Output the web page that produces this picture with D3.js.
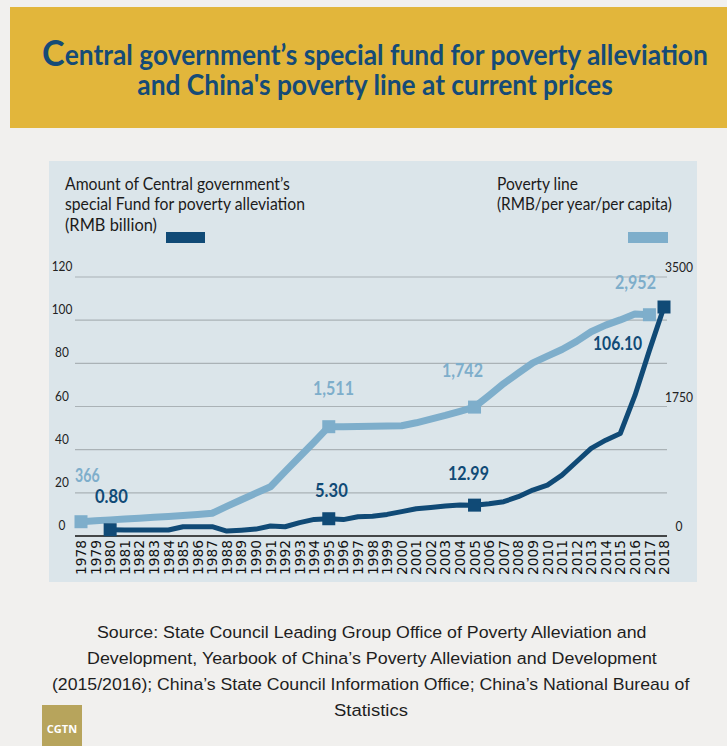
<!DOCTYPE html>
<html><head><meta charset="utf-8">
<script src="https://cdn.jsdelivr.net/npm/d3@7"></script>
<style>
html,body{margin:0;padding:0;background:#f1f0ee;}
svg{display:block;}
</style></head>
<body>
<script>
// ---- data ----
const years = d3.range(1978, 2019);
const fundYears = [1980,1981,1982,1983,1984,1985,1986,1987,1988,1989,1990,1991,1992,1993,1994,1995,1996,1997,1998,1999,2000,2001,2002,2003,2004,2005,2006,2007,2008,2009,2010,2011,2012,2013,2014,2015,2016,2017,2018];
const fundValues = [2.9,2.8,2.8,2.8,2.8,4.3,4.3,4.3,2.3,2.7,3.2,4.6,4.3,6.2,7.7,8.0,7.6,8.9,9.2,10.0,11.3,12.6,13.2,13.9,14.4,14.3,14.9,15.9,18.2,21.3,23.6,28.2,34.4,40.6,44.4,47.5,65,86,106.1];
const lineYears = [1978,1979,1980,1981,1982,1983,1984,1985,1986,1987,1988,1989,1990,1991,1992,1993,1994,1995,1996,1997,1998,1999,2000,2001,2002,2003,2004,2005,2006,2007,2008,2009,2010,2011,2012,2013,2014,2015,2016,2017];
const lineValues = [193,205,218,230,240,252,264,276,290,307,400,490,580,666,870,1070,1270,1477,1478,1480,1483,1487,1490,1530,1580,1630,1685,1742,1900,2060,2200,2340,2430,2520,2630,2760,2850,2920,3000,2990];
const fundMarkers = [1980,1995,2005,2018];
const fundLabels = ["0.80","5.30","12.99","106.10"];
const lineMarkers = [1978,1995,2005,2017];
const lineLabels = ["366","1,511","1,742","2,952"];
const leftTicks = [0,20,40,60,80,100,120];
const rightTicks = [0,1750,3500];
const titleCap = "C";
const titleLines = ["entral government\u2019s special fund for poverty alleviation","and China's poverty line at current prices"];
const leftLegend = ["Amount of Central government\u2019s","special Fund for poverty alleviation","(RMB billion)"];
const rightLegend = ["Poverty line","(RMB/per year/per capita)"];
const sourceLines = ["Source: State Council Leading Group Office of Poverty Alleviation and",
 "Development, Yearbook of China\u2019s Poverty Alleviation and Development",
 "(2015/2016); China\u2019s State Council Information Office; China\u2019s National Bureau of",
 "Statistics"];

// ---- styles ----
const W = 727, H = 746;
const DARK = "#104a76", LIGHT = "#7eaecb", TITLE = "#154b77";
const HUM = "Lato,'Open Sans',sans-serif";

const svg = d3.select("body").append("svg").attr("width", W).attr("height", H);
svg.append("rect").attr("width", W).attr("height", H).attr("fill", "#f1f0ee");

// horizontally scale each text of a selection about its anchor x to a target width
function fit(sel, wf) {
  sel.each(function (d, i) {
    const w0 = this.getComputedTextLength();
    const tw = typeof wf === "function" ? wf(d, i) : wf;
    const s = w0 > 0 ? tw / w0 : 1;
    const x0 = +this.getAttribute("x") || 0;
    this.setAttribute("transform", `translate(${x0},0) scale(${s},1) translate(${-x0},0)`);
  });
  return sel;
}

// header
svg.append("rect").attr("x", 10).attr("y", 7).attr("width", W - 10).attr("height", 121).attr("fill", "#e2b63b");
const TX = 375;
const title = svg.append("text").attr("text-anchor", "middle")
  .attr("font-family", HUM).attr("font-weight", "bold").attr("fill", TITLE).attr("font-size", 28.5);
title.append("tspan").attr("x", TX).attr("y", 66.5).attr("font-size", 37).text(titleCap);
title.append("tspan").attr("dy", -1).text(titleLines[0]);
title.append("tspan").attr("x", TX).attr("y", 95).text(titleLines[1]);
{
  const bw = title.node().getBBox().width;
  const s = 666 / bw;
  title.attr("transform", `translate(${TX},0) scale(${s},1) translate(${-TX},0)`);
}

// panel
svg.append("rect").attr("x", 49).attr("y", 161).attr("width", 648).attr("height", 421).attr("fill", "#dbe5ea");

// scales
const x = d3.scaleLinear().domain([1978, 2018]).range([81, 664]);
const yL = d3.scaleLinear().domain([0, 120]).range([536, 277]);
const yR = d3.scaleLinear().domain([0, 3500]).range([536, 277]);
const X0 = 75, X1 = 667;

// gridlines
svg.append("g").selectAll("line").data(leftTicks.filter(d => d > 0)).join("line")
  .attr("x1", X0).attr("x2", X1).attr("y1", d => yL(d)).attr("y2", d => yL(d))
  .attr("stroke", "#aab2b6").attr("stroke-width", 1.2);
svg.append("line").attr("x1", X0).attr("x2", X1).attr("y1", yL(0)).attr("y2", yL(0))
  .attr("stroke", "#111").attr("stroke-width", 1.6);

// left tick labels
fit(svg.append("g").selectAll("text").data(leftTicks).join("text")
  .attr("x", 62).attr("y", d => yL(d) - 11).attr("dy", "0.36em").attr("text-anchor", "middle")
  .attr("font-family", HUM).attr("font-size", 14).attr("fill", "#222")
  .text(d => d), d => String(d).length * 6.9);
// right tick labels
fit(svg.append("g").selectAll("text").data(rightTicks).join("text")
  .attr("x", 679).attr("y", d => yR(d) - 10).attr("dy", "0.36em").attr("text-anchor", "middle")
  .attr("font-family", HUM).attr("font-size", 14).attr("fill", "#222")
  .text(d => d), d => String(d).length * 7);

// x tick labels
svg.append("g").selectAll("text").data(years).join("text")
  .attr("transform", d => `translate(${x(d)},575) rotate(-90)`)
  .attr("dy", "0.37em")
  .attr("font-family", "'DejaVu Sans',sans-serif").attr("font-size", 13.8)
  .attr("fill", "#111").text(d => d);

// legends
const legW = [225, 240, 92], legW2 = [81, 175];
fit(svg.append("g").selectAll("text").data(leftLegend).join("text")
  .attr("x", 65).attr("y", (d, i) => 190 + i * 20.5)
  .attr("font-family", HUM).attr("font-size", 16.5).attr("fill", "#1b1b1b")
  .text(d => d), (d, i) => legW[i]);
fit(svg.append("g").selectAll("text").data(rightLegend).join("text")
  .attr("x", 497).attr("y", (d, i) => 190 + i * 20.5)
  .attr("font-family", HUM).attr("font-size", 16.5).attr("fill", "#1b1b1b")
  .text(d => d), (d, i) => legW2[i]);
svg.append("rect").attr("x", 166).attr("y", 232).attr("width", 39).attr("height", 11).attr("fill", DARK);
svg.append("rect").attr("x", 628).attr("y", 232).attr("width", 40).attr("height", 11).attr("fill", LIGHT);

// lines
svg.append("path")
  .datum(d3.zip(lineYears, lineValues))
  .attr("d", d3.line().x(d => x(d[0])).y(d => yR(d[1])))
  .attr("fill", "none").attr("stroke", LIGHT).attr("stroke-width", 7)
  .attr("stroke-linejoin", "round");
svg.append("path")
  .datum(d3.zip(fundYears, fundValues))
  .attr("d", d3.line().x(d => x(d[0])).y(d => yL(d[1])))
  .attr("fill", "none").attr("stroke", DARK).attr("stroke-width", 5)
  .attr("stroke-linejoin", "round");

// markers
const MS = 13;
svg.append("g").selectAll("rect").data(lineMarkers).join("rect")
  .attr("x", d => x(d) - MS / 2)
  .attr("y", d => yR(lineValues[lineYears.indexOf(d)]) - MS / 2)
  .attr("width", MS).attr("height", MS).attr("fill", LIGHT);
svg.append("g").selectAll("rect").data(fundMarkers).join("rect")
  .attr("x", d => x(d) - MS / 2)
  .attr("y", d => yL(fundValues[fundYears.indexOf(d)]) - MS / 2)
  .attr("width", MS).attr("height", MS).attr("fill", DARK);

// value labels
const lineLabelPos = [[75, 482], [313, 395], [442, 377], [615, 289]];
const fundLabelPos = [[95, 503], [315, 497], [448, 480], [593, 350]];
const labW = s => s.length * 8.2;
fit(svg.append("g").selectAll("text").data(lineLabels).join("text")
  .attr("x", (d, i) => lineLabelPos[i][0]).attr("y", (d, i) => lineLabelPos[i][1])
  .attr("font-family", HUM).attr("font-weight", "bold")
  .attr("font-size", 18.5).attr("fill", LIGHT).text(d => d), d => labW(d));
fit(svg.append("g").selectAll("text").data(fundLabels).join("text")
  .attr("x", (d, i) => fundLabelPos[i][0]).attr("y", (d, i) => fundLabelPos[i][1])
  .attr("font-family", HUM).attr("font-weight", "bold")
  .attr("font-size", 18.5).attr("fill", DARK).text(d => d), d => labW(d));

// source
const srcX = [97, 87, 52, 334], srcW = [550, 570, 638, 74];
fit(svg.append("g").selectAll("text").data(sourceLines).join("text")
  .attr("x", (d, i) => srcX[i]).attr("y", (d, i) => 638 + i * 26)
  .attr("font-family", "'Liberation Sans',Arial,sans-serif").attr("font-size", 17)
  .attr("fill", "#1e1e1e").text(d => d), (d, i) => srcW[i]);

// logo
svg.append("rect").attr("x", 42).attr("y", 705).attr("width", 40).attr("height", 41).attr("fill", "#b7a45c");
svg.append("text").attr("x", 62).attr("y", 733).attr("text-anchor", "middle")
  .attr("font-family", "'Open Sans','DejaVu Sans',sans-serif").attr("font-weight", "bold")
  .attr("font-size", 11).attr("fill", "#fff").text("CGTN");
</script>
</body></html>
